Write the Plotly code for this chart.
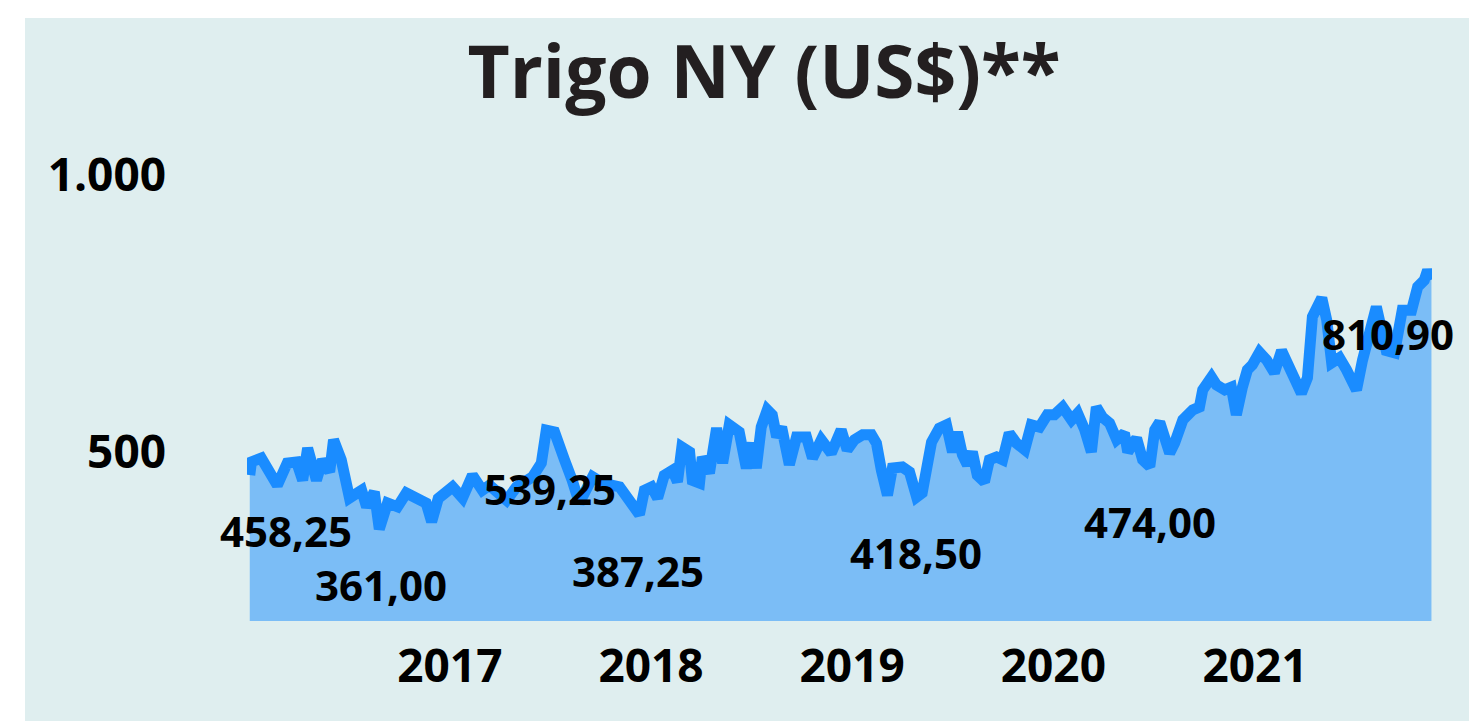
import plotly.graph_objects as go

# ---- data ----
dates = [
    "2016-01-04", "2016-01-07", "2016-01-25", "2016-02-05", "2016-02-23", "2016-03-12", "2016-03-29",
    "2016-04-09", "2016-04-18", "2016-05-04", "2016-05-15", "2016-05-28", "2016-06-04", "2016-06-18",
    "2016-06-27", "2016-07-03", "2016-07-25", "2016-08-03", "2016-08-17", "2016-08-26", "2016-09-10",
    "2016-09-28", "2016-10-14", "2016-11-01", "2016-11-19", "2016-11-29", "2016-12-11",
    "2017-01-06", "2017-01-24", "2017-02-11", "2017-03-01", "2017-03-14", "2017-04-14", "2017-05-02",
    "2017-05-31", "2017-06-16", "2017-06-25", "2017-07-10", "2017-07-19", "2017-07-28", "2017-08-11",
    "2017-08-24", "2017-09-17", "2017-10-05", "2017-11-05", "2017-11-28", "2017-12-11", "2017-12-20",
    "2018-01-02", "2018-01-13", "2018-01-25", "2018-02-09", "2018-02-18", "2018-02-26", "2018-03-12",
    "2018-03-17", "2018-03-30", "2018-04-04", "2018-04-17", "2018-04-30", "2018-05-11", "2018-05-23",
    "2018-06-10", "2018-06-23", "2018-07-04", "2018-07-11", "2018-07-20", "2018-07-31", "2018-08-09",
    "2018-08-17", "2018-08-26", "2018-09-09", "2018-09-22", "2018-10-10", "2018-10-21", "2018-11-06",
    "2018-11-24", "2018-12-12", "2018-12-23",
    "2019-01-05", "2019-01-20", "2019-02-05", "2019-02-14", "2019-02-23", "2019-03-06", "2019-03-15",
    "2019-04-02", "2019-04-15", "2019-04-28", "2019-05-08", "2019-05-16", "2019-05-25", "2019-06-08",
    "2019-06-21", "2019-07-02", "2019-07-11", "2019-07-20", "2019-07-29", "2019-08-07", "2019-08-16",
    "2019-08-29", "2019-09-07", "2019-09-20", "2019-10-01", "2019-10-13", "2019-10-26", "2019-11-10",
    "2019-11-22", "2019-12-07", "2019-12-21",
    "2020-01-03", "2020-01-18", "2020-02-03", "2020-02-14", "2020-02-27", "2020-03-10", "2020-03-19",
    "2020-03-30", "2020-04-12", "2020-04-25", "2020-05-09", "2020-05-15", "2020-05-31", "2020-06-11",
    "2020-06-24", "2020-07-03", "2020-07-12", "2020-07-30", "2020-08-08", "2020-08-23", "2020-09-10",
    "2020-09-22", "2020-09-28", "2020-10-14", "2020-10-23", "2020-11-07", "2020-11-19", "2020-11-28",
    "2020-12-09", "2020-12-18", "2020-12-27",
    "2021-01-09", "2021-01-22", "2021-02-05", "2021-02-18", "2021-03-01", "2021-03-13", "2021-03-26",
    "2021-04-06", "2021-04-15", "2021-05-02", "2021-05-11", "2021-05-20", "2021-06-03", "2021-06-16",
    "2021-07-04", "2021-07-15", "2021-07-31", "2021-08-09", "2021-08-27", "2021-09-11", "2021-09-25",
    "2021-10-12", "2021-10-23", "2021-11-04", "2021-11-10", "2021-11-17",
]
prices = [
    458.25, 482, 489, 473, 440, 480, 482,
    449, 507, 449, 486, 464, 522, 486,
    449, 417, 431, 401, 428, 361.00, 408,
    401, 426, 417, 408, 374, 416,
    437, 417, 458, 431, 440, 413, 437,
    455, 480, 539.25, 536, 504, 486, 449,
    408, 455, 444, 437, 410, 387.25, 431,
    437, 417, 458, 467, 446, 509, 500,
    449, 444, 491, 462, 543, 480, 549,
    536, 471, 516, 471, 545, 576, 567,
    527, 545, 477, 527, 527, 489, 522,
    498, 540, 504,
    522, 531, 531, 516, 467, 422, 471,
    473, 464, 418.50, 426, 480, 518, 543,
    549, 500, 536, 495, 477, 500, 458,
    446, 486, 491, 486, 534, 516, 504,
    549, 545, 567,
    567, 581, 558, 570, 540, 500, 581,
    563, 552, 522, 534, 500, 525, 486,
    474.00, 540, 554, 498, 516, 558, 576,
    581, 612, 635, 621, 612, 617, 567,
    617, 648, 657,
    680, 666, 643, 683, 661, 643, 606,
    634, 744, 778, 738, 661, 670, 648,
    612, 666, 733, 762, 683, 679, 756,
    756, 798, 810, 828, 810.90,
]

label_values = [458.25, 361.00, 539.25, 387.25, 418.50, 474.00, 810.90]
label_dates = ["2016-03-10", "2016-08-30", "2017-07-01", "2017-12-08", "2019-04-26", "2020-06-24", "2021-08-31"]
label_heights = [359, 260, 435, 287, 318, 375, 713]

year_ticks = ["2017-01-01", "2018-01-01", "2019-01-01", "2020-01-01", "2021-01-01"]
year_labels = ["2017", "2018", "2019", "2020", "2021"]
y_ticks = [500, 1000]
y_labels = ["500", "1.000"]

TEAL = "#dfeeef"
FONT = "Open Sans"

# page body has an 8px default margin: positions below are compensated for it
L, R, T, B = 239, 53, 142, 108
W, H = 1477, 721
PW, PH = W - L - R, H - T - B

fig = go.Figure()
fig.add_trace(go.Scatter(
    x=dates, y=prices, mode="lines",
    line=dict(color="#1a8cff", width=11),
    fill="tozeroy", fillcolor="#7bbdf6",
    hoverinfo="x+y", showlegend=False,
))

def fmt(v):
    return f"{v:.2f}".replace(".", ",")

for d, h, v in zip(label_dates, label_heights, label_values):
    fig.add_annotation(x=d, y=h, text=fmt(v), showarrow=False,
                       font=dict(family=FONT, size=42, color="#000000", weight="bold"),
                       xanchor="center", yanchor="middle")

# teal panel (white strip at top and left)
fig.add_shape(type="rect", xref="paper", yref="paper",
              x0=(17 - L) / PW, x1=(W + 20 - L) / PW,
              y0=-(B + 20) / PH, y1=(H - B - 10) / PH,
              fillcolor=TEAL, line=dict(width=0), layer="below")

fig.update_layout(
    width=W, height=H,
    margin=dict(l=L, r=R, t=T, b=B),
    paper_bgcolor="white", plot_bgcolor=TEAL,
    title=dict(text="<b>Trigo NY (US$)**</b>", x=756 / W, xanchor="center",
               y=1 - 64 / H, yanchor="middle", yref="container",
               font=dict(family=FONT, size=73, color="#231f20")),
    xaxis=dict(type="date", range=["2015-12-30", "2021-11-18"],
               tickvals=year_ticks, ticktext=year_labels,
               showgrid=False, zeroline=False, showline=False, ticks="",
               ticklabelstandoff=14,
               tickfont=dict(family=FONT, size=46, color="#000000", weight="bold")),
    yaxis=dict(range=[195, 1045], tickvals=y_ticks, ticktext=y_labels,
               showgrid=False, zeroline=False, showline=False, ticks="",
               ticklabelstandoff=80,
               tickfont=dict(family=FONT, size=46, color="#000000", weight="bold")),
)

fig.write_html("out.html")
